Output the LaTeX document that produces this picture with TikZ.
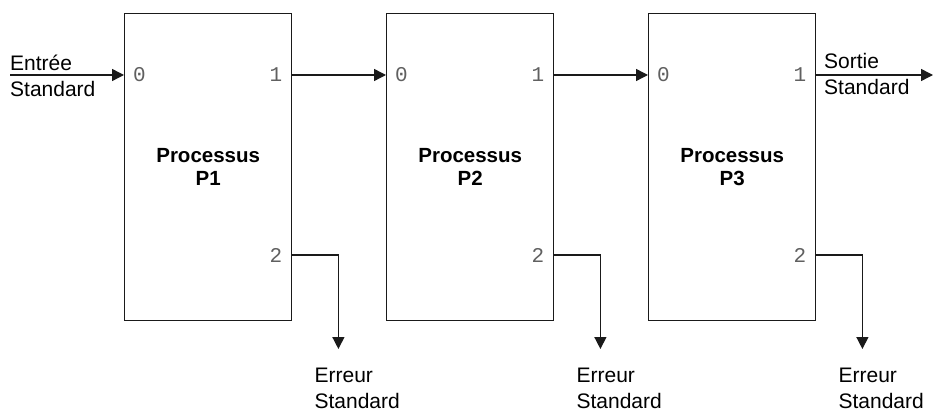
\documentclass[tikz,border=0pt]{standalone}
\usepackage{fontspec}
\setmainfont{Liberation Sans}
\newfontfamily\portfont{Liberation Mono}
\usetikzlibrary{arrows.meta,calc}
\definecolor{linec}{HTML}{1A1A1A}
\definecolor{portc}{HTML}{606060}
\tikzset{
  procbox/.style={draw=linec,line width=1.4pt,rectangle,minimum width=167pt,minimum height=307pt,anchor=north west,inner sep=0pt},
  arr/.style={draw=linec,line width=1.4pt,-{Triangle[length=12pt,width=12pt]}},
  lbl/.style={font=\fontsize{21}{26.7}\selectfont,align=left,anchor=base west,inner sep=0pt,text=black},
  elbl/.style={font=\fontsize{21}{25.5}\selectfont,align=left,anchor=base west,inner sep=0pt,text=black},
  title/.style={font=\fontsize{20.5}{22.5}\selectfont\bfseries,align=center,inner sep=0pt,text=black},
  port/.style={font=\portfont\fontsize{21}{21}\selectfont,text=portc,inner sep=0pt}
}
\begin{document}
\begin{tikzpicture}[x=1pt,y=-1pt]
\useasboundingbox (0,0) rectangle (933,411);
\coordinate (row0) at (0,75);
\coordinate (row2) at (0,255);
\coordinate (inS) at (10,75);
\coordinate (outS) at (933,75);
\foreach \i/\x in {1/124,2/386,3/648}{
  \node[procbox] (b\i) at (\x,13) {};
  \node[title] (t\i) at (b\i.center) {Processus\\P\i};
  \node[port,anchor=base west] (p0\i) at ($(b\i.west |- row0)+(9,7)$) {0};
  \node[port,anchor=base east] (p1\i) at ($(b\i.east |- row0)+(-10,7)$) {1};
  \node[port,anchor=base east] (p2\i) at ($(b\i.east |- row2)+(-10,7)$) {2};
  \coordinate (e\i) at ($(b\i.east |- row2)+(46,0)$);
  \coordinate (et\i) at ($(b\i.east |- row2)+(46,94)$);
  \draw[arr] (b\i.east |- row2) -- (e\i) -- (et\i);
  \node[elbl] (el\i) at ($(et\i)+(-24,59)$) {Erreur\\Standard};
}
\draw[arr] (inS) -- (b1.west |- row0);
\draw[arr] (b1.east |- row0) -- (b2.west |- row0);
\draw[arr] (b2.east |- row0) -- (b3.west |- row0);
\draw[arr] (b3.east |- row0) -- (outS);
\node[lbl] (inl) at (10,97) {Entrée\\Standard};
\node[lbl] (outl) at (824,95) {Sortie\\Standard};
\end{tikzpicture}
\end{document}
